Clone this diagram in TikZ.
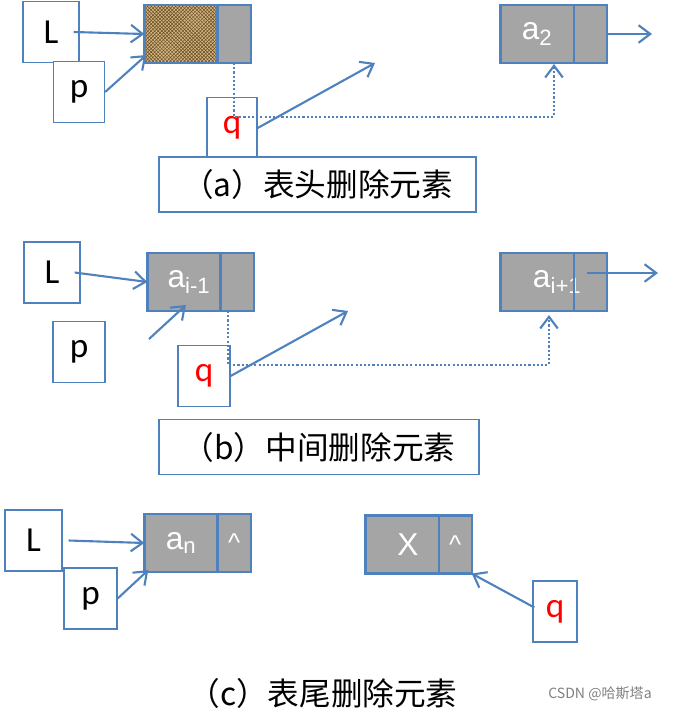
\documentclass[tikz,border=0pt]{standalone}
\usepackage{fontspec}
\setmainfont{Liberation Sans}
\newfontfamily\cali{Carlito}
\newfontfamily\cjk{Noto Sans CJK SC}
\usetikzlibrary{positioning,arrows.meta,patterns}
\definecolor{lkblue}{RGB}{79,129,189}
\definecolor{lkgray}{RGB}{165,165,165}
\definecolor{burlap}{RGB}{210,182,130}
\definecolor{burlapdark}{RGB}{105,75,35}
\begin{document}
\begin{tikzpicture}[x=0.03cm, y=-0.03cm, >={Straight Barb[length=10pt,width=15pt]}, line width=1.8pt,
  box/.style={draw=lkblue, line width=1.1pt, fill=white, inner sep=0pt, minimum width=1.68cm, minimum height=1.83cm, font=\cali\fontsize{30}{30}\selectfont},
  celltxt/.style={text=white, font=\fontsize{27}{27}\selectfont},
  dat/.style={draw=lkblue, line width=2pt, fill=lkgray, inner sep=0pt, outer sep=0pt, minimum width=2.2cm, minimum height=1.74cm, celltxt},
  nxt/.style={dat, minimum width=0.99cm, font=\fontsize{22}{22}\selectfont},
  capbox/.style={draw=lkblue, line width=1.1pt, fill=white, minimum height=1.65cm, font=\cjk\fontsize{27}{27}\selectfont},
  link/.style={->, draw=lkblue},
  lost/.style={->, draw=lkblue, dash pattern=on 1.8pt off 1.8pt}]
\useasboundingbox (0,0) rectangle (674,720);

% (a) 表头删除
\node[box] (La) at (51,32) {L};
\node[box, minimum width=1.53cm] (pa) at (79,92) {p};
\node[dat, fill=burlap, postaction={pattern=crosshatch, pattern color=burlapdark}, postaction={draw=lkblue, line width=2pt}] (h1) at (181,34) {};
\node[nxt, right=0pt of h1] (h1n) {};
\node[dat] (a2) at (537,34) {a\textsubscript{2}};
\node[nxt, right=0pt of a2] (a2n) {};
\node[box, text=red, minimum width=1.5cm] (qa) at (232,128) {q};
\node[capbox, minimum width=9.51cm] (capa) at (317.5,184.5) {（a）表头删除元素};
\coordinate (ea) at (375,63);
\coordinate (fa) at (652,34);
\draw[link] ([xshift=-0.18cm]La.east) -- (h1.west);
\draw[link] (pa.east) -- ([shift={(2,-8)}]h1.south west);
\draw[lost] (h1n.south) -- ++(0,54) -| ([shift={(17,1)}]a2.south);
\draw[link] (qa.east) -- (ea);
\draw[link] (a2n.east) -- (fa);

% (b) 中间删除
\node[box] (Lb) at (52,272.5) {L};
\node[box, minimum width=1.56cm] (pb) at (79,352) {p};
\node[dat] (bi) at (184,282) {\hspace*{0.3cm}a\textsubscript{i-1}};
\node[nxt, right=0pt of bi] (bin) {};
\node[dat] (bj) at (537,282) {};
\node[nxt, right=0pt of bj, label={[celltxt, xshift=-0.99cm]center:a\textsubscript{i+1}}] (bjn) {};
\draw[lkblue, line width=2pt] (bjn.north west) -- (bjn.south west);
\node[box, text=red, minimum width=1.56cm] (qb) at (204,376) {q};
\node[capbox, minimum width=9.6cm] (capb) at (319,447) {（b）中间删除元素};
\coordinate (pbs) at (149,339);
\coordinate (pbt) at (186,305);
\coordinate (eb) at (348,311);
\coordinate (fb) at (658,273);
\draw[link] ([xshift=-0.18cm]Lb.east) -- (bi.west);
\draw[link] (pbs) -- (pbt);
\draw[lost] ([shift={(-9,0)}]bin.south) -- ++(0,54) -| ([shift={(12,4)}]bj.south);
\draw[link] (qb.east) -- (eb);
\draw[link] ([shift={(-3,-9)}]bjn.center) -- (fb);

% (c) 表尾删除
\node[box, minimum width=1.71cm] (Lc) at (33.5,540.5) {L};
\node[box, minimum width=1.59cm] (pc) at (90.5,598.5) {p};
\node[dat] (cn) at (181,543) {a\textsubscript{n}};
\node[nxt, right=0pt of cn] (cnn) {\textasciicircum};
\node[dat, label={[celltxt, xshift=0.18cm]center:X}] (cx) at (402,544.5) {};
\node[nxt, right=0pt of cx] (cxn) {\textasciicircum};
\node[box, text=red, minimum width=1.32cm] (qc) at (555,611.5) {q};
\draw[link] ([shift={(6,0)}]Lc.east) -- (cn.west);
\draw[link] (pc.east) -- ([shift={(4,-2)}]cn.south west);
\draw[link] ([shift={(2,-4)}]qc.west) -- (cxn.south east);
\node[font=\cjk\fontsize{27}{27}\selectfont] (capc) at (323,693) {（c）表尾删除元素};
\node[text=gray, font=\cjk\fontsize{12}{12}\selectfont] (mark) at (600,694) {CSDN @哈斯塔a};
\end{tikzpicture}
\end{document}
